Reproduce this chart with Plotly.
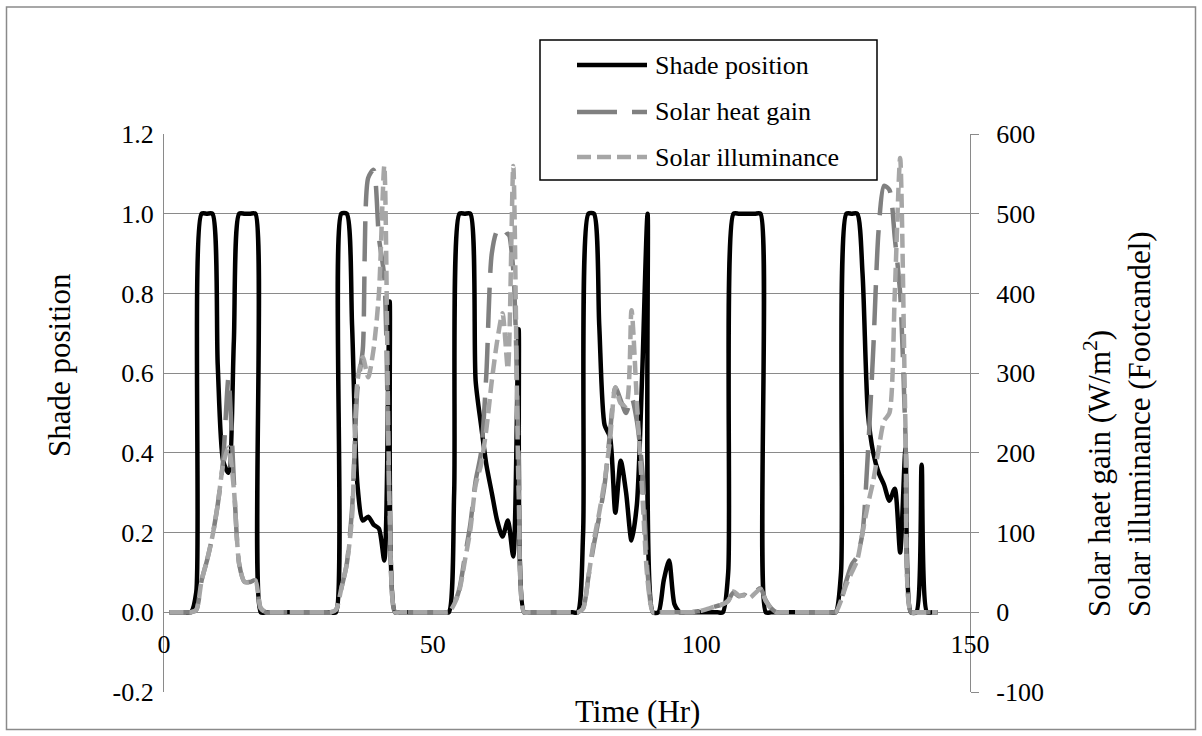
import plotly.graph_objects as go

# Hourly simulation output, hours 1..144 (six days)
hours = list(range(1, 145))

# Shade position (0 = open, 1 = fully deployed), one list per day
shade_day1 = [0, 0, 0, 0, 0, 0.05, 1.0, 1.0, 1.0, 0.62, 0.38, 0.35,
              0.68, 1.0, 1.0, 1.0, 1.0, 0, 0, 0, 0, 0, 0, 0]
shade_day2 = [0, 0, 0, 0, 0, 0, 0, 0, 1.0, 1.0, 0.72, 0.32,
              0.23, 0.24, 0.22, 0.21, 0.13, 0.78, 0, 0, 0, 0, 0, 0]
shade_day3 = [0, 0, 0, 0, 0, 0.3, 1.0, 1.0, 1.0, 0.58, 0.47, 0.37,
              0.30, 0.23, 0.19, 0.23, 0.14, 0.71, 0, 0, 0, 0, 0, 0]
shade_day4 = [0, 0, 0, 0, 0, 0.2, 1.0, 1.0, 0.72, 0.47, 0.44, 0.25,
              0.38, 0.30, 0.18, 0.27, 0.6, 1.0, 0, 0, 0.08, 0.13, 0.02, 0]
shade_day5 = [0, 0, 0, 0, 0, 0, 0, 0, 0.1, 1.0, 1.0, 1.0,
              1.0, 1.0, 1.0, 0, 0, 0, 0, 0, 0, 0, 0, 0]
shade_day6 = [0, 0, 0, 0, 0, 0.1, 1.0, 1.0, 1.0, 0.85, 0.5, 0.4,
              0.35, 0.32, 0.28, 0.31, 0.15, 0.41, 0, 0, 0.37, 0, 0, 0]

# Solar heat gain (W/m2)
heat_day1 = [0, 0, 0, 0, 0, 3, 40, 65, 95, 135, 190, 294,
             165, 60, 38, 38, 40, 5, 0, 0, 0, 0, 0, 0]
heat_day2 = [0, 0, 0, 0, 0, 0, 0, 3, 30, 60, 130, 280,
             330, 545, 555, 470, 420, 120, 0, 0, 0, 0, 0, 0]
heat_day3 = [0, 0, 0, 0, 0, 10, 30, 70, 110, 165, 200, 300,
             450, 478, 470, 475, 430, 200, 0, 0, 0, 0, 0, 0]
heat_day4 = [0, 0, 0, 0, 0, 5, 45, 85, 120, 160, 225, 282,
             266, 250, 270, 240, 180, 50, 0, 0, 0, 0, 0, 0]
heat_day5 = [0, 0, 1, 2, 4, 6, 8, 10, 15, 25, 20, 22,
             18, 25, 30, 15, 5, 0, 0, 0, 0, 0, 0, 0]
heat_day6 = [0, 0, 0, 0, 0, 15, 40, 60, 70, 100, 200, 330,
             480, 535, 530, 470, 400, 220, 0, 0, 0, 0, 0, 0]

# Solar illuminance (footcandles)
illum_day1 = [0, 0, 0, 0, 0, 3, 40, 65, 95, 135, 185, 207,
              155, 60, 38, 38, 40, 5, 0, 0, 0, 0, 0, 0]
illum_day2 = [0, 0, 0, 0, 0, 0, 0, 3, 30, 60, 120, 290,
              320, 295, 330, 400, 560, 130, 0, 0, 0, 0, 0, 0]
illum_day3 = [0, 0, 0, 0, 0, 10, 28, 65, 103, 160, 185, 230,
              290, 340, 375, 305, 560, 150, 0, 0, 0, 0, 0, 0]
illum_day4 = [0, 0, 0, 0, 0, 5, 45, 90, 125, 165, 216, 282,
              262, 260, 379, 265, 150, 40, 0, 0, 0, 0, 0, 0]
illum_day5 = [0, 0, 1, 2, 4, 6, 8, 10, 14, 26, 21, 21,
              18, 24, 29, 14, 5, 0, 0, 0, 0, 0, 0, 0]
illum_day6 = [0, 0, 0, 0, 0, 15, 35, 50, 65, 100, 135, 165,
              205, 240, 250, 400, 570, 230, 0, 0, 0, 0, 0, 0]

shade = shade_day1 + shade_day2 + shade_day3 + shade_day4 + shade_day5 + shade_day6
heat_gain = heat_day1 + heat_day2 + heat_day3 + heat_day4 + heat_day5 + heat_day6
illuminance = illum_day1 + illum_day2 + illum_day3 + illum_day4 + illum_day5 + illum_day6

series_names = ["Shade position", "Solar heat gain", "Solar illuminance"]

x_ticks = [0, 50, 100, 150]
left_ticks = [-0.2, 0.0, 0.2, 0.4, 0.6, 0.8, 1.0, 1.2]
left_tick_text = ["-0.2", "0.0", "0.2", "0.4", "0.6", "0.8", "1.0", "1.2"]
right_ticks = [-100, 0, 100, 200, 300, 400, 500, 600]
right_tick_text = ["-100", "0", "100", "200", "300", "400", "500", "600"]

FONT = "'Liberation Serif', 'Times New Roman', Times, 'DejaVu Serif', serif"
GRID = "#8a8a8a"
BLACK_LINE = "#000000"
HEAT_COLOR = "#808080"
ILLUM_COLOR = "#a6a6a6"
HEAT_DASH = "40px,15px"
ILLUM_DASH = "14px,6px"

fig = go.Figure()
fig.add_trace(go.Scatter(
    x=hours, y=shade, name=series_names[0], mode="lines",
    line=dict(color=BLACK_LINE, width=4.5, shape="spline", smoothing=0.7),
    yaxis="y", showlegend=False))
fig.add_trace(go.Scatter(
    x=hours, y=heat_gain, name=series_names[1], mode="lines",
    line=dict(color=HEAT_COLOR, width=4.5, dash=HEAT_DASH, shape="spline", smoothing=0.7),
    yaxis="y2", showlegend=False))
fig.add_trace(go.Scatter(
    x=hours, y=illuminance, name=series_names[2], mode="lines",
    line=dict(color=ILLUM_COLOR, width=4.5, dash=ILLUM_DASH, shape="spline", smoothing=0.7),
    yaxis="y2", showlegend=False))

# plot area: 164..970 px across, 134..692 px down
L, R, T, B = 164, 232, 134, 44
W, H = 1202, 736
PW, PH = W - L - R, H - T - B


def px(x):
    return (x - L) / PW


def py(y):
    return (H - B - y) / PH


tick_font = dict(family=FONT, size=26, color="black")
title_font = dict(family=FONT, size=31, color="black")

fig.update_layout(
    width=W, height=H,
    margin=dict(l=L, r=R, t=T, b=B, autoexpand=False),
    paper_bgcolor="white", plot_bgcolor="white",
    font=dict(family=FONT, size=26, color="black"),
    xaxis=dict(
        range=[0, 150], tickvals=x_ticks, ticktext=[str(v) for v in x_ticks],
        showgrid=False, zeroline=False, showline=False, ticks="",
        anchor="free", position=0.2 / 1.4, ticklabelstandoff=14,
        tickfont=tick_font,
    ),
    yaxis=dict(
        range=[-0.2, 1.2], tickvals=left_ticks, ticktext=left_tick_text,
        showgrid=True, gridcolor=GRID, gridwidth=1.3, zeroline=False,
        showline=True, linecolor=GRID, linewidth=1.3, ticks="",
        ticklabelstandoff=4,
        tickfont=tick_font,
    ),
    yaxis2=dict(
        range=[-100, 600], tickvals=right_ticks, ticktext=right_tick_text,
        overlaying="y", side="right", anchor="x",
        showgrid=False, zeroline=False,
        showline=True, linecolor=GRID, linewidth=1.3,
        ticks="outside", ticklen=8, tickwidth=1.3, tickcolor=GRID,
        ticklabelstandoff=12,
        tickfont=tick_font,
    ),
)

shapes = []
# chart border
shapes.append(dict(type="rect", xref="paper", yref="paper",
                   x0=px(6.5), x1=px(1195.5), y0=py(729.5), y1=py(7),
                   line=dict(color="#8a8a8a", width=1.5), layer="below"))
# legend box
shapes.append(dict(type="rect", xref="paper", yref="paper",
                   x0=px(540), x1=px(877), y0=py(180), y1=py(40),
                   line=dict(color="black", width=1.5)))
legend_rows = [65, 112, 157]
legend_styles = [
    dict(color=BLACK_LINE, width=4.5, dash="solid"),
    dict(color=HEAT_COLOR, width=4.5, dash=HEAT_DASH),
    dict(color=ILLUM_COLOR, width=4.5, dash=ILLUM_DASH),
]
annotations = []
for name, row, style in zip(series_names, legend_rows, legend_styles):
    shapes.append(dict(type="line", xref="paper", yref="paper",
                       x0=px(577), x1=px(647), y0=py(row), y1=py(row), line=style))
    annotations.append(dict(text=name, xref="paper", yref="paper",
                            x=px(653), y=py(row), xanchor="left", yanchor="middle",
                            showarrow=False, font=tick_font))

# axis titles
annotations.append(dict(text="Time (Hr)", xref="paper", yref="paper",
                        x=px(637), y=py(711), xanchor="center", yanchor="middle",
                        showarrow=False, font=title_font))
annotations.append(dict(text="Shade position", xref="paper", yref="paper",
                        x=px(59), y=py(365), xanchor="center", yanchor="middle",
                        textangle=-90, showarrow=False, font=title_font))
annotations.append(dict(text="Solar haet gain (W/m<sup>2</sup>)<br>Solar illuminance (Footcandel)",
                        xref="paper", yref="paper",
                        x=px(1117), y=py(619), xanchor="center", yanchor="bottom",
                        textangle=-90, align="left", showarrow=False, font=title_font))

fig.update_layout(shapes=shapes, annotations=annotations)

fig.write_html("out.html")
